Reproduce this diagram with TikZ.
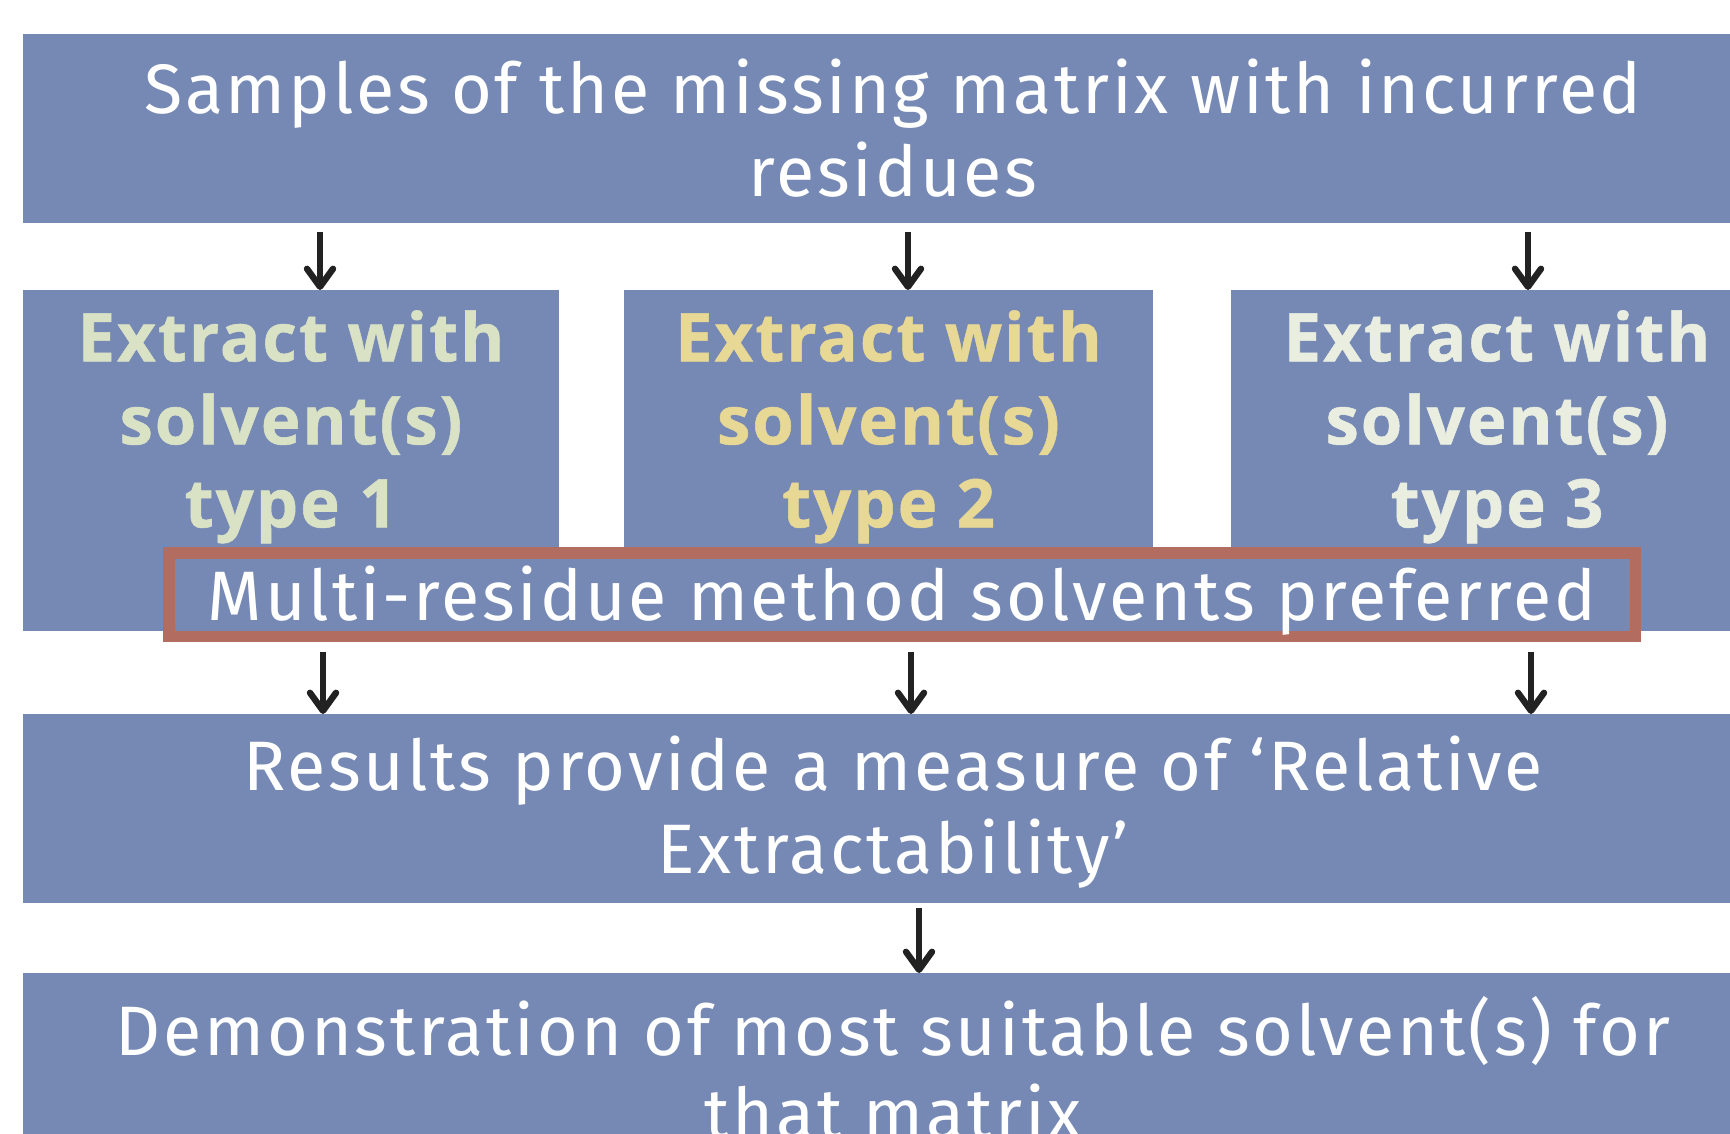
\documentclass[tikz,border=0pt]{standalone}
\usepackage{fontspec}
\setmainfont{Fira Sans}[LetterSpace=4]
\IfFontExistsTF{Open Sans Bold}{\newfontfamily\heavyfont{Open Sans Bold}[FakeBold=0.8, LetterSpace=3]}{%
  \newfontfamily\heavyfont{DejaVu Sans Bold}}
\usetikzlibrary{arrows.meta}
\definecolor{boxblue}{HTML}{7689B5}
\definecolor{redline}{HTML}{B36D60}
\definecolor{typeone}{HTML}{D9E2C5}
\definecolor{typetwo}{HTML}{E8D895}
\definecolor{typethree}{HTML}{E9EEE0}
\definecolor{arrowgray}{HTML}{222222}

\begin{document}
\begin{tikzpicture}[x=0.5pt, y=-0.5pt,
  wide/.style={fill=boxblue, minimum width=870pt, minimum height=94.5pt, inner sep=0pt},
  widetext/.style={inner sep=0pt, align=center, text=white, font=\fontsize{35}{41.5}\selectfont},
  extract/.style={fill=boxblue, minimum height=170.5pt, inner sep=0pt},
  extracttext/.style={anchor=north, inner sep=0pt, align=center, font=\heavyfont\fontsize{33.5}{41.5}\selectfont},
  note/.style={draw=redline, line width=5.75pt, fill=boxblue, minimum width=733.25pt, minimum height=41.75pt,
    inner sep=0pt},
  notetext/.style={anchor=base, inner sep=0pt, text=white, font=\fontsize{35}{41.5}\selectfont},
  flow/.style={draw=arrowgray, line width=3.2pt, -{Straight Barb[length=9pt, width=13pt, round]}},
]
\clip (0,0) rectangle (1730,1134);
\useasboundingbox (0,0) rectangle (1730,1134);

\node[wide] (samples) at (893, 128.5) {};
\node[widetext] (samplestext) at (893, 128.5) {Samples of the missing matrix with incurred\\residues};

\node[extract, minimum width=268pt] (ext1) at (291, 460.5) {};
\node[extract, minimum width=264.5pt] (ext2) at (888.5, 460.5) {};
\node[extract, minimum width=266pt] (ext3) at (1497, 460.5) {};
\node[extracttext, text=typeone] (ext1text) at (291, 310) {Extract with\\solvent(s)\\type 1};
\node[extracttext, text=typetwo] (ext2text) at (888.5, 310) {Extract with\\solvent(s)\\type 2};
\node[extracttext, text=typethree] (ext3text) at (1497, 310) {Extract with\\solvent(s)\\type 3};

\node[note] (multi) at (902, 594.5) {};
\node[notetext] (multitext) at (902, 620) {Multi-residue method solvents preferred};

\node[wide] (results) at (893, 808.5) {};
\node[widetext] (resultstext) at (893, 812) {Results provide a measure of `Relative\\Extractability'};
\node[wide] (demo) at (893, 1067.5) {};
\node[widetext] (demotext) at (893, 1067.5) {Demonstration of most suitable solvent(s) for\\that matrix};

% arrows in and out of the three extractions
\foreach \n/\ax/\bx in {1/320/323, 2/908/911, 3/1528/1531} {
  \coordinate (in\n) at (\ax, 290);
  \coordinate (out\n) at (\bx, 714);
  \draw[flow, shorten <=4.5pt] (samples.south -| in\n) -- (in\n);
  \draw[flow, shorten <=5pt] (multi.south -| out\n) -- (out\n);
}
\coordinate (final) at (919, 973);
\draw[flow, shorten <=2.5pt] (results.south -| final) -- (final);
\end{tikzpicture}
\end{document}
